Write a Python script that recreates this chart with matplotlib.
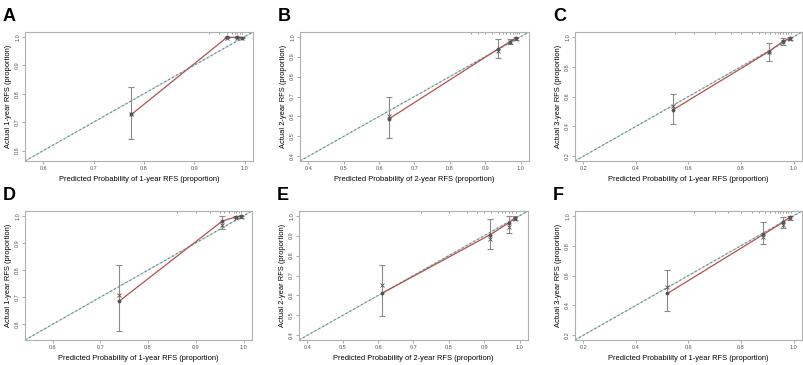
import matplotlib
matplotlib.use("Agg")
import matplotlib.pyplot as plt

plt.rcParams['font.family'] = ['Liberation Sans', 'DejaVu Sans']

letters = ['A', 'B', 'C', 'D', 'E', 'F']
xlabels = ['Predicted Probability of 1-year RFS (proportion)',
           'Predicted Probability of 2-year RFS (proportion)',
           'Predicted Probability of 1-year RFS (proportion)',
           'Predicted Probability of 1-year RFS (proportion)',
           'Predicted Probability of 2-year RFS (proportion)',
           'Predicted Probability of 1-year RFS (proportion)']
ylabels = ['Actual 1-year RFS (proportion)',
           'Actual 2-year RFS (proportion)',
           'Actual 3-year RFS (proportion)',
           'Actual 1-year RFS (proportion)',
           'Actual 2-year RFS (proportion)',
           'Actual 3-year RFS (proportion)']
lims = [(0.58, 1.0), (0.4, 1.0), (0.2, 1.0), (0.56, 1.0), (0.4, 1.0), (0.2, 1.0)]
ticks = [[0.6, 0.7, 0.8, 0.9, 1.0],
         [0.4, 0.5, 0.6, 0.7, 0.8, 0.9, 1.0],
         [0.2, 0.4, 0.6, 0.8, 1.0],
         [0.6, 0.7, 0.8, 0.9, 1.0],
         [0.4, 0.5, 0.6, 0.7, 0.8, 0.9, 1.0],
         [0.2, 0.4, 0.6, 0.8, 1.0]]

# predicted, observed, CI low, CI high, bias-corrected
pred = [[0.775, 0.965, 0.985, 0.995],
        [0.628, 0.935, 0.970, 0.988],
        [0.540, 0.905, 0.960, 0.985],
        [0.740, 0.955, 0.985, 0.995],
        [0.610, 0.917, 0.970, 0.988],
        [0.520, 0.885, 0.958, 0.985]]
obs = [[0.727, 0.998, 0.998, 0.997],
       [0.588, 0.937, 0.975, 0.993],
       [0.510, 0.900, 0.970, 0.990],
       [0.686, 0.980, 0.997, 0.998],
       [0.610, 0.905, 0.965, 0.990],
       [0.480, 0.875, 0.955, 0.990]]
lo = [[0.640, 0.995, 0.995, 0.994],
      [0.490, 0.895, 0.962, 0.985],
      [0.415, 0.840, 0.945, 0.980],
      [0.575, 0.950, 0.990, 0.993],
      [0.495, 0.835, 0.915, 0.980],
      [0.365, 0.810, 0.915, 0.975]]
hi = [[0.823, 1.000, 1.000, 1.000],
      [0.695, 0.990, 0.990, 1.000],
      [0.620, 0.960, 0.990, 1.000],
      [0.820, 0.998, 1.000, 1.000],
      [0.755, 0.985, 1.000, 1.000],
      [0.635, 0.955, 0.995, 1.000]]
bc = [[0.727, 0.995, 0.996, 0.996],
      [0.600, 0.930, 0.972, 0.990],
      [0.535, 0.895, 0.965, 0.988],
      [0.710, 0.965, 0.993, 0.996],
      [0.650, 0.885, 0.945, 0.985],
      [0.525, 0.860, 0.940, 0.985]]

# distribution of predicted values (rug along the top)
rug = [[0.93, 0.95, 0.965, 0.975, 0.98, 0.985, 0.99, 0.995],
       [0.86, 0.88, 0.90, 0.92, 0.94, 0.95, 0.96, 0.97, 0.98, 0.985, 0.99, 0.995],
       [0.55, 0.62, 0.70, 0.76, 0.80, 0.84, 0.87, 0.89, 0.91, 0.93, 0.94, 0.95, 0.96, 0.97, 0.98, 0.99],
       [0.86, 0.90, 0.93, 0.95, 0.96, 0.97, 0.98, 0.985, 0.99, 0.995],
       [0.72, 0.80, 0.85, 0.88, 0.90, 0.92, 0.94, 0.95, 0.96, 0.97, 0.98, 0.99],
       [0.62, 0.70, 0.75, 0.80, 0.84, 0.87, 0.89, 0.91, 0.93, 0.94, 0.95, 0.96, 0.97, 0.98, 0.99]]

boxes = [(25, 32, 253, 161), (300, 32, 529, 161), (575, 32, 802, 161),
         (25, 211, 252, 340), (299, 211, 528, 340), (575, 211, 802, 340)]
W, H = 804, 365

fig = plt.figure(figsize=(8.04, 3.65), dpi=100)
for i in range(6):
    x0, y0, x1, y1 = boxes[i]
    ax = fig.add_axes([x0 / W, 1 - y1 / H, (x1 - x0) / W, (y1 - y0) / H])
    a, b = lims[i]
    pad = 0.04 * (b - a)
    ax.set_xlim(a - pad, b + pad)
    ax.set_ylim(a - pad, b + pad)
    ax.plot([a - pad, b + pad], [a - pad, b + pad], color='#cfcfcf', lw=0.8)
    ax.plot([a - pad, b + pad], [a - pad, b + pad], color='#4f9a94', lw=0.8, ls=(0, (2, 2)))
    ax.errorbar(pred[i], obs[i], yerr=[[o - l for o, l in zip(obs[i], lo[i])],
                                       [h - o for o, h in zip(obs[i], hi[i])]],
                fmt='none', ecolor='#8a8a8a', elinewidth=0.8, capsize=2, capthick=0.8)
    ax.plot(pred[i], obs[i], color='#b5504f', lw=0.9, marker='o', ms=1.8,
            mfc='#555555', mec='#555555')
    ax.plot(pred[i], bc[i], ls='none', marker='x', ms=2.5, mew=0.6, color='#555555')
    ax.vlines(rug[i], b + pad - 0.02 * (b - a), b + pad, color='#777777', lw=0.5)
    ax.set_xticks(ticks[i])
    ax.set_yticks(ticks[i])
    ax.set_xticklabels([f'{t:.1f}' for t in ticks[i]], fontsize=4, color='#555555')
    ax.set_yticklabels([f'{t:.1f}' for t in ticks[i]], fontsize=4, color='#555555',
                       rotation=90, va='center')
    ax.tick_params(length=2, width=0.5, color='#888888', pad=1.5)
    for s in ax.spines.values():
        s.set_color('#b0b0b0')
        s.set_linewidth(0.8)
    ax.set_xlabel(xlabels[i], fontsize=5.4, labelpad=4)
    ax.set_ylabel(ylabels[i], fontsize=5.4, labelpad=2)
    fig.text((x0 - 22) / W, 1 - (y0 - 24) / H, letters[i], fontsize=13,
             fontweight='bold', va='top', ha='left')

fig.savefig('out.png', dpi=100)
